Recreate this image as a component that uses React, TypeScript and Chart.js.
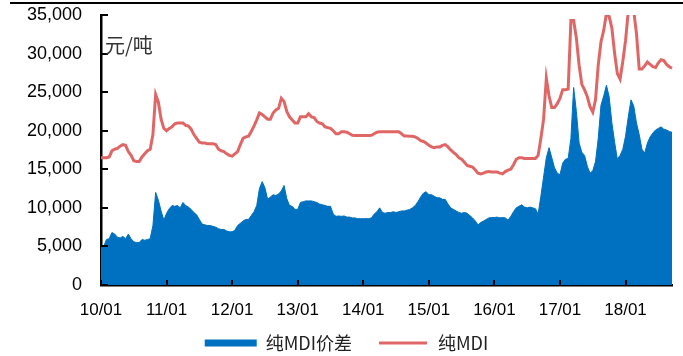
import React, { useEffect, useRef } from 'react';
import { Chart, registerables } from 'chart.js';

Chart.register(...registerables);

// Half-month periods, Jan 2010 .. Sep 2018 (first/second half of each month)
const startYear = 2010;
const periodCount = 210;

const xTickLabels = ['10/01', '11/01', '12/01', '13/01', '14/01', '15/01', '16/01', '17/01', '18/01'];

const yTickMax = 35000;
const yTickStep = 5000;

const seriesNames = ['纯MDI价差', '纯MDI'];
const unitLabel = '元/吨';

// 纯MDI价差 (blue area), one row per year
const spreadValues = [
  5100, 5000, 5900, 6000, 6800, 6600, 6200, 6100, 6300, 6000, 6600, 6000, 5600, 5500, 5500, 5900, 5800, 5900, 6000, 7700, 12000, 11000, 9600, 8400,
  9300, 9900, 10300, 10200, 10300, 10000, 10700, 10300, 10100, 9800, 9400, 9100, 8500, 7900, 7800, 7700, 7700, 7600, 7500, 7300, 7200, 7200, 7000, 6900,
  6900, 7100, 7700, 8000, 8300, 8500, 8500, 9000, 9500, 10300, 12500, 13400, 12600, 11100, 11400, 11700, 11600, 11800, 12200, 12900, 11200, 10300, 10200, 9800,
  9800, 10700, 10800, 10900, 10900, 10900, 10800, 10700, 10500, 10400, 10300, 10200, 10200, 9200, 8900, 8950, 8900, 8950, 8800, 8800, 8700, 8700, 8600, 8600,
  8600, 8600, 8600, 8700, 9200, 9500, 10000, 9400, 9300, 9400, 9400, 9500, 9400, 9500, 9600, 9600, 9700, 9800, 10000, 10300, 10800, 11400, 11900, 12100,
  11700, 11700, 11500, 11300, 11300, 11100, 11100, 10500, 10000, 9800, 9600, 9400, 9300, 9400, 9300, 9000, 8700, 8300, 7800, 8100, 8300, 8500, 8700, 8750,
  8750, 8800, 8700, 8750, 8700, 8400, 8900, 9500, 10000, 10200, 10400, 10100, 10000, 10100, 10000, 9900, 9200, 11500, 14000, 16500, 17800, 16500, 15200, 14500,
  14300, 15800, 16300, 16400, 19000, 25600, 22500, 18400, 17200, 16800, 15400, 14500, 14800, 16000, 19000, 23300, 24500, 25900, 24400, 21000, 18500, 16300, 16800, 17600,
  19300, 21800, 24000, 23200, 21000, 19500, 17600, 17100, 18400, 19200, 19700, 20100, 20300, 20500, 20200, 20100, 19900, 19800,
];

// 纯MDI (red line), one row per year
const priceValues = [
  16500, 16500, 16500, 16600, 17400, 17600, 17700, 18000, 18200, 18100, 17300, 16800, 16100, 16000, 16000, 16600, 17000, 17400, 17600, 19500, 24700, 23700, 21500, 20300,
  20000, 20300, 20500, 20900, 21000, 21000, 21000, 20700, 20600, 20200, 19500, 19000, 18500, 18400, 18400, 18300, 18300, 18300, 18200, 17600, 17400, 17300, 17000, 16800,
  16700, 17000, 17300, 18200, 19000, 19200, 19300, 19900, 20600, 21400, 22300, 22100, 21800, 21500, 21500, 22300, 22700, 22900, 24200, 23800, 22500, 21800, 21400, 21000,
  21000, 21800, 21800, 21800, 22200, 21800, 21700, 21200, 21000, 20900, 20500, 20400, 20300, 20000, 19600, 19600, 19850, 19850, 19800, 19600, 19400, 19370, 19370, 19370,
  19370, 19370, 19370, 19400, 19600, 19800, 19850, 19850, 19850, 19850, 19850, 19850, 19850, 19850, 19600, 19300, 19300, 19280, 19280, 19200, 19000, 18700, 18600, 18400,
  18100, 17900, 17800, 17900, 17900, 18100, 18200, 17900, 17500, 17200, 16900, 16500, 16300, 15900, 15500, 15400, 15300, 14900, 14500, 14400, 14500, 14650, 14700, 14640,
  14640, 14640, 14500, 14400, 14700, 14900, 15000, 15600, 16300, 16500, 16500, 16400, 16400, 16400, 16400, 16400, 16800, 19000, 21500, 26800, 24500, 23000, 23000, 23500,
  24200, 25300, 25300, 25400, 34300, 34300, 32000, 28500, 26000, 25300, 24400, 23100, 22400, 24000, 28500, 31500, 33000, 35200, 34800, 33300, 30000, 27400, 26700, 29000,
  31700, 35500, 35500, 35500, 32600, 28000, 28000, 28400, 28900, 28600, 28300, 28200, 28800, 29200, 29100, 28600, 28300, 28100,
];

const periods: string[] = [];
for (let i = 0; i < periodCount; i++) {
  const y = startYear + Math.floor(i / 24);
  const m = Math.floor((i % 24) / 2) + 1;
  periods.push(`${y}-${String(m).padStart(2, '0')}-${i % 2 === 0 ? 'A' : 'B'}`);
}

const tickLabelFor = (index: number): string => {
  const p = periods[index];
  if (!p || !p.endsWith('-01-A')) return '';
  const yearIdx = Number(p.slice(0, 4)) - startYear;
  return xTickLabels[yearIdx] ?? '';
};

const BLUE = '#0070C0';
const RED = '#E06666';

const decorPlugin = {
  id: 'decor',
  afterDraw(chart: any) {
    const { ctx, chartArea, scales } = chart;
    const xs = scales.x;
    const ys = scales.y;
    ctx.save();
    ctx.strokeStyle = '#000';
    ctx.lineWidth = 2;
    ys.ticks.forEach((_t: any, i: number) => {
      const py = Math.round(ys.getPixelForTick(i));
      ctx.beginPath();
      ctx.moveTo(chartArea.left, py);
      ctx.lineTo(chartArea.left + 7, py);
      ctx.stroke();
    });
    periods.forEach((_p, i) => {
      if (!tickLabelFor(i)) return;
      const px = Math.round(xs.getPixelForValue(i));
      ctx.beginPath();
      ctx.moveTo(px, chartArea.bottom);
      ctx.lineTo(px, chartArea.bottom - 5);
      ctx.stroke();
    });
    ctx.fillStyle = '#333';
    ctx.font = '20px "Noto Sans CJK SC", sans-serif';
    ctx.textAlign = 'left';
    ctx.textBaseline = 'middle';
    ctx.fillText(unitLabel, chartArea.left + 4, chartArea.top + 30);
    ctx.restore();
  },
};

export default function App() {
  const canvasRef = useRef<HTMLCanvasElement>(null);

  useEffect(() => {
    const canvas = canvasRef.current;
    if (!canvas) return;
    const chart = new Chart(canvas, {
      type: 'line',
      data: {
        labels: periods,
        datasets: [
          {
            label: seriesNames[0],
            data: spreadValues,
            borderColor: BLUE,
            backgroundColor: BLUE,
            borderWidth: 1,
            pointRadius: 0,
            fill: 'origin',
            tension: 0,
          },
          {
            label: seriesNames[1],
            data: priceValues,
            borderColor: RED,
            backgroundColor: RED,
            borderWidth: 3,
            pointRadius: 0,
            fill: false,
            tension: 0,
          },
        ],
      },
      options: {
        responsive: false,
        animation: false,
        devicePixelRatio: 1,
        layout: { padding: { left: 21, right: 11, top: 15, bottom: -6 } },
        plugins: {
          tooltip: { enabled: false },
          legend: {
            position: 'bottom',
            labels: {
              boxWidth: 52,
              boxHeight: 7,
              padding: 25,
              color: '#222',
              font: { family: '"Noto Sans CJK SC", sans-serif', size: 18 },
              generateLabels: (c: any) =>
                c.data.datasets.map((ds: any, i: number) => ({
                  text: ds.label,
                  fillStyle: ds.borderColor,
                  strokeStyle: i === 1 ? '#ffffff' : ds.borderColor,
                  lineWidth: i === 1 ? 4 : 0,
                  hidden: false,
                  datasetIndex: i,
                  fontColor: '#222',
                })),
            },
          },
        },
        scales: {
          x: {
            type: 'category',
            z: 1,
            grid: { display: true, drawOnChartArea: false, drawTicks: true, tickLength: 5, color: 'rgba(0,0,0,0)' },
            border: { display: true, color: '#000', width: 2.5 },
            ticks: {
              autoSkip: false,
              maxRotation: 0,
              minRotation: 0,
              padding: 10,
              color: '#000',
              font: { family: '"Liberation Sans", Arial, sans-serif', size: 17 },
              callback: (_v: any, index: number) => tickLabelFor(index),
            },
            afterFit: (scale: any) => {
              scale.height = 24;
              // let the tick labels draw below the (short) scale box without clipping
              scale._computeLabelArea = () => undefined;
            },
          },
          y: {
            min: 0,
            max: yTickMax,
            z: 1,
            grid: { display: true, drawOnChartArea: false, drawTicks: true, tickLength: 15, color: 'rgba(0,0,0,0)' },
            border: { display: true, color: '#000', width: 2.5 },
            ticks: {
              stepSize: yTickStep,
              padding: 4,
              color: '#000',
              font: { family: '"Liberation Sans", Arial, sans-serif', size: 18 },
              callback: (v: any) => Number(v).toLocaleString('en-US'),
            },
            afterFit: (scale: any) => {
              scale.width = 80;
            },
          },
        },
      },
      plugins: [decorPlugin],
    });
    return () => chart.destroy();
  }, []);

  return (
    <div style={{ position: 'fixed', left: 0, top: 0, width: 683, height: 356, background: '#fff' }}>
      <div style={{ position: 'absolute', left: 10, top: 2, width: 673, height: 2, background: '#000' }} />
      <canvas
        ref={canvasRef}
        width={683}
        height={356}
        style={{ position: 'absolute', left: 0, top: 0, width: 683, height: 356 }}
      />
    </div>
  );
}
